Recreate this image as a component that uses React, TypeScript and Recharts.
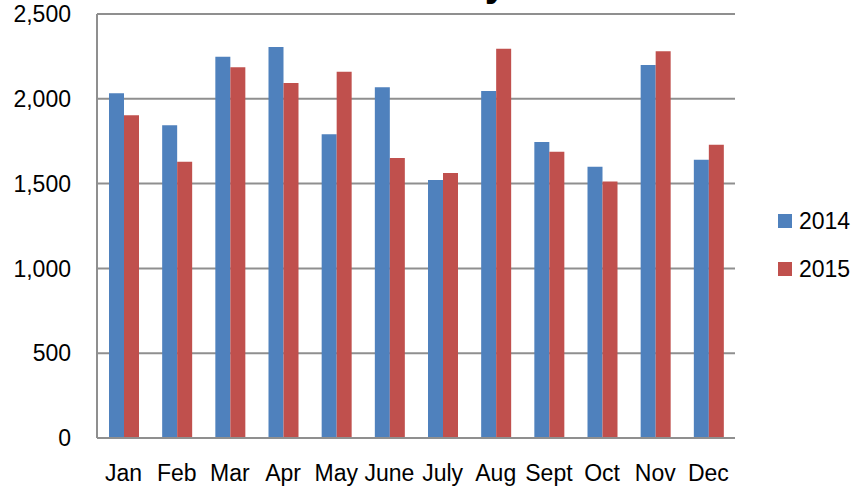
import React from 'react';
import { BarChart, Bar, XAxis, YAxis, CartesianGrid, Legend, Customized } from 'recharts';

const months = ['Jan', 'Feb', 'Mar', 'Apr', 'May', 'June', 'July', 'Aug', 'Sept', 'Oct', 'Nov', 'Dec'];
const values2014 = [2032, 1844, 2248, 2305, 1791, 2068, 1521, 2046, 1745, 1600, 2199, 1641];
const values2015 = [1903, 1629, 2186, 2093, 2160, 1651, 1562, 2295, 1688, 1513, 2280, 1729];
const yTicks = [0, 500, 1000, 1500, 2000, 2500];
const seriesNames = ['2014', '2015'];
const titleText = 'Monthly';

const data = months.map((m, i) => ({ month: m, s2014: values2014[i], s2015: values2015[i] }));

const FONT = '"Liberation Sans", Arial, sans-serif';
const BLUE = '#4F81BD';
const RED = '#C0504D';

const LegendContent = () => (
  <div style={{ fontFamily: FONT, fontSize: 23, color: '#000' }}>
    {[BLUE, RED].map((c, i) => (
      <div key={i} style={{ display: 'flex', alignItems: 'center', height: 48 }}>
        <span style={{ display: 'inline-block', width: 14, height: 14, background: c, marginRight: 7 }} />
        <span>{seriesNames[i]}</span>
      </div>
    ))}
  </div>
);

const Title = () => (
  <text x={507} y={-4} textAnchor="end" fontFamily={FONT} fontWeight="bold" fontSize={40} fill="#000">
    {titleText}
  </text>
);

export default function App() {
  return (
    <div style={{ position: 'absolute', left: 0, top: 0, width: 854, height: 490, background: '#fff' }}>
      <BarChart
        width={854}
        height={490}
        data={data}
        margin={{ top: 14, right: 119, bottom: 0, left: 0 }}
        barSize={15}
        barGap={0}
      >
        <CartesianGrid horizontal vertical={false} stroke="#8f8f8f" strokeWidth={2} />
        <XAxis
          dataKey="month"
          height={52}
          interval={0}
          tickLine={false}
          tickSize={0}
          tickMargin={27}
          axisLine={{ stroke: '#8f8f8f', strokeWidth: 2 }}
          tick={{ fill: '#000', fontSize: 23, fontFamily: FONT }}
        />
        <YAxis
          width={97}
          domain={[0, 2500]}
          ticks={yTicks}
          interval={0}
          tickLine={false}
          tickSize={0}
          tickMargin={26}
          axisLine={{ stroke: '#8f8f8f', strokeWidth: 2 }}
          tick={{ fill: '#000', fontSize: 23, fontFamily: FONT }}
          tickFormatter={(v: number) => v.toLocaleString('en-US')}
        />
        <Bar dataKey="s2014" name={seriesNames[0]} fill={BLUE} isAnimationActive={false} />
        <Bar dataKey="s2015" name={seriesNames[1]} fill={RED} isAnimationActive={false} />
        <Legend
          layout="vertical"
          align="center"
          verticalAlign="middle"
          content={<LegendContent />}
          wrapperStyle={{ left: 778, top: 197, width: 76, height: 96 }}
        />
        <Customized component={Title} />
      </BarChart>
    </div>
  );
}
